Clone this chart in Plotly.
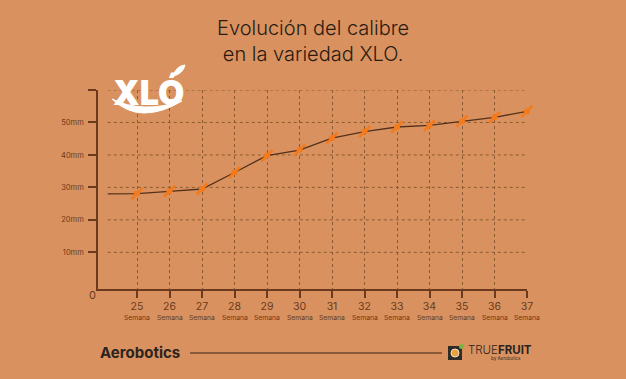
import plotly.graph_objects as go

# ---- data ----
weeks = [25, 26, 27, 28, 29, 30, 31, 32, 33, 34, 35, 36, 37]
caliber_mm = [28.1, 28.8, 29.5, 34.6, 39.8, 41.5, 45.2, 47.2, 48.6, 49.1, 50.4, 51.6, 53.4]
start_week = 24.1
start_value = 28.0
y_ticks = [10, 20, 30, 40, 50, 60]
y_tick_labels = ["10mm", "20mm", "30mm", "40mm", "50mm", ""]
x_tick_labels = [str(w) for w in weeks]
week_word = "Semana"

BG = "#D9925F"
DARK = "#2A1B12"
BROWN = "#6B3A1C"
GRID = "#8C5A32"
ORANGE = "#F47A1C"

W, H = 626, 379
L, R, T, B = 98, 99, 90, 90
X_RANGE = [23.8, 37.0]
Y_RANGE = [-1.3, 60]


def px(x):
    return (x - L) / (W - L - R)


def py(y):
    return (H - B - y) / (H - T - B)


fig = go.Figure()

fig.add_trace(go.Scatter(
    x=[start_week] + weeks, y=[start_value] + caliber_mm,
    mode="lines", line=dict(color="#55301A", width=1.3),
    hoverinfo="skip", showlegend=False,
))
fig.add_trace(go.Scatter(
    x=weeks, y=caliber_mm, mode="markers",
    marker=dict(symbol="line-ne", size=11, line=dict(color=ORANGE, width=2.6)),
    cliponaxis=False, showlegend=False, hoverinfo="skip",
))
fig.add_trace(go.Scatter(
    x=weeks, y=caliber_mm, mode="markers",
    marker=dict(symbol="circle", size=6, color=ORANGE, line=dict(width=0)),
    cliponaxis=False, showlegend=False,
))

shapes = []
for v in y_ticks:
    shapes.append(dict(type="line", xref="x", yref="y", x0=start_week, x1=weeks[-1],
                       y0=v, y1=v, line=dict(color=GRID, width=1, dash="dot"), layer="below"))

shapes.append(dict(type="line", xref="paper", yref="paper", x0=px(190), x1=px(442),
                   y0=py(353), y1=py(353), line=dict(color="#3A2418", width=1)))
shapes.append(dict(type="rect", xref="paper", yref="paper", x0=px(448), x1=px(462),
                   y0=py(360), y1=py(346), fillcolor="#2E2A26", line=dict(width=0)))
shapes.append(dict(type="circle", xref="paper", yref="paper", x0=px(451), x1=px(459),
                   y0=py(357), y1=py(349), fillcolor="#E9A23B", line=dict(color="#F2E3C8", width=1)))
shapes.append(dict(type="circle", xref="paper", yref="paper", x0=px(459), x1=px(464),
                   y0=py(349), y1=py(344), fillcolor="#7BB241", line=dict(width=0)))
# XLO swoosh and leaf
shapes.append(dict(type="path", xref="paper", yref="paper",
                   path=(f"M {px(112)},{py(99)} Q {px(140)},{py(126)} {px(182)},{py(101)} "
                         f"Q {px(142)},{py(114)} {px(112)},{py(99)} Z"),
                   fillcolor="white", line=dict(color="white", width=1)))
shapes.append(dict(type="path", xref="paper", yref="paper",
                   path=(f"M {px(173)},{py(76)} Q {px(176)},{py(66)} {px(185)},{py(65)} "
                         f"Q {px(183)},{py(74)} {px(173)},{py(76)} Z"),
                   fillcolor="white", line=dict(color="white", width=1)))

annotations = [
    dict(text="Evolución del calibre<br>en la variedad XLO.", x=0.5, y=py(41), xref="paper", yref="paper",
         showarrow=False, xanchor="center", yanchor="middle",
         font=dict(family="Inter", size=20, color=DARK, weight=300)),
    dict(text="0", x=px(92), y=py(295), xref="paper", yref="paper", showarrow=False,
         xanchor="center", yanchor="middle",
         font=dict(family="Inter", size=11, color=BROWN)),
    dict(text="XLÓ", x=px(148), y=py(92), xref="paper", yref="paper", showarrow=False,
         xanchor="center", yanchor="middle",
         font=dict(family="Inter", size=34, color="white", weight=900)),
    dict(text="Aerobotics", x=px(140), y=py(352), xref="paper", yref="paper", showarrow=False,
         xanchor="center", yanchor="middle",
         font=dict(family="Inter", size=15, color="#2B2420", weight=700)),
    dict(text="TRUE<b>FRUIT</b>", x=px(466), y=py(350), xref="paper", yref="paper", showarrow=False,
         xanchor="left", yanchor="middle", font=dict(family="Inter", size=11.5, color="#2B2420", weight=300)),
    dict(text="by Aerobotics", x=px(523), y=py(358), xref="paper", yref="paper", showarrow=False,
         xanchor="right", yanchor="middle", font=dict(family="Inter", size=4.5, color="#2B2420")),
]
for w in weeks:
    annotations.append(dict(text=week_word, x=w, y=py(317), xref="x", yref="paper", showarrow=False,
                            xanchor="center", yanchor="middle",
                            font=dict(family="Inter", size=6.8, color=BROWN)))

fig.update_layout(
    width=W, height=H,
    margin=dict(l=L, r=R, t=T, b=B),
    paper_bgcolor=BG, plot_bgcolor=BG,
    shapes=shapes, annotations=annotations,
    showlegend=False,
    xaxis=dict(
        range=X_RANGE, tickmode="array", tickvals=weeks, ticktext=x_tick_labels,
        showgrid=True, gridcolor=GRID, gridwidth=1, griddash="dot",
        showline=True, linecolor=BROWN, linewidth=1.5,
        ticks="outside", ticklen=7, tickcolor=BROWN, tickwidth=1.5,
        tickfont=dict(family="Inter", size=10.5, color=BROWN), zeroline=False,
        fixedrange=True, automargin=False,
    ),
    yaxis=dict(
        range=Y_RANGE, tickmode="array", tickvals=y_ticks, ticktext=y_tick_labels,
        showgrid=False, showline=True, linecolor=BROWN, linewidth=1.5,
        ticks="outside", ticklen=8, tickcolor=BROWN, tickwidth=1.5, ticklabelstandoff=3,
        tickfont=dict(family="Inter", size=7.5, color=BROWN), zeroline=False,
        fixedrange=True, automargin=False,
    ),
)

fig.write_html(
    "out.html",
    config={"displayModeBar": False},
    post_script=f"document.body.style.margin='0';document.body.style.background='{BG}';"
                "document.body.style.overflow='hidden';",
)
